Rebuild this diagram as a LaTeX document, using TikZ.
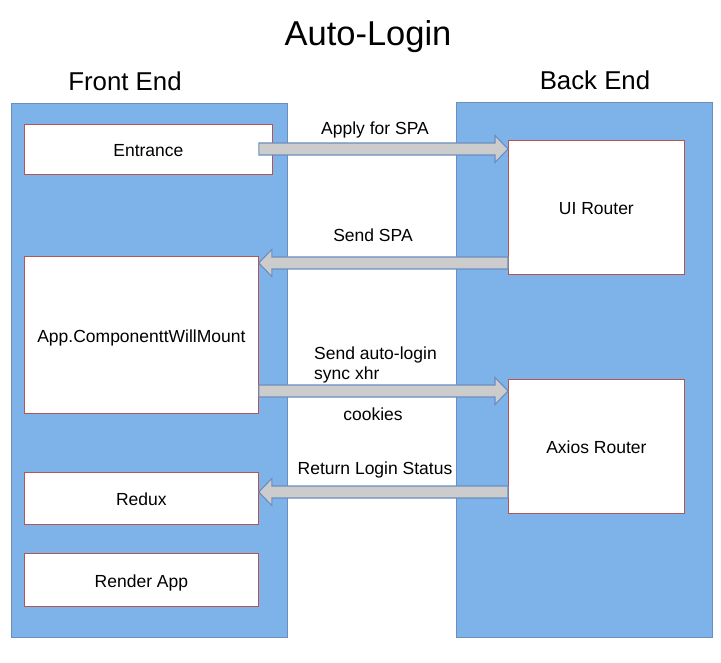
\documentclass[tikz,border=0pt]{standalone}
\usepackage{fontspec}
\setmainfont{Liberation Sans}
\usetikzlibrary{calc}
\definecolor{panelfill}{HTML}{7EB3EA}
\definecolor{paneldraw}{HTML}{6C8EBF}
\definecolor{boxdraw}{HTML}{B85450}
\definecolor{arrfill}{HTML}{CCCCCC}
\tikzset{
  panel/.style={draw=paneldraw, fill=panelfill, line width=0.8pt, anchor=north west, inner sep=0pt},
  box/.style={draw=boxdraw, fill=white, line width=0.8pt, anchor=north west, inner sep=0pt,
    font=\fontsize{17.5}{20}\selectfont, align=center, text height=15pt, text depth=0pt},
  lbl/.style={font=\fontsize{17.5}{20}\selectfont, inner sep=0pt},
  fatarr/.style={draw=paneldraw, fill=arrfill, line width=1.1pt, line join=miter},
}
\newcommand\fatarrow[2]{%
  \draw[fatarr] let \p1=(#1), \p2=(#2), \n1={ifthenelse(\x2>\x1,1,-1)} in
    (\x1,\y1+6pt) -- ({\x2-\n1*13pt},\y1+6pt) -- ({\x2-\n1*13pt},\y1+13.5pt) -- (\x2,\y1)
    -- ({\x2-\n1*13pt},\y1-13.5pt) -- ({\x2-\n1*13pt},\y1-6pt) -- (\x1,\y1-6pt) -- cycle;}
\begin{document}
\begin{tikzpicture}[x=1pt,y=-1pt]
\useasboundingbox[fill=white] (0,0) rectangle (721,663);
\node[font=\fontsize{34.5}{40}\selectfont, inner sep=0pt, anchor=base] (title) at (368,46) {Auto-Login};
\node[font=\fontsize{25.8}{30}\selectfont, inner sep=0pt, anchor=base] (fehead) at (125,91) {Front End};
\node[font=\fontsize{25.8}{30}\selectfont, inner sep=0pt, anchor=base] (behead) at (595,90) {Back End};
\node[panel, minimum width=276, minimum height=534] (fe) at (11,103) {};
\node[panel, minimum width=256, minimum height=535] (be) at (456,102) {};
\node[box, minimum width=248, minimum height=50] (entrance) at (24,124) {Entrance};
\node[box, minimum width=234, minimum height=157] (app) at (24,256) {App.ComponenttWillMount};
\node[box, minimum width=234, minimum height=52] (redux) at (24,472) {Redux};
\node[box, minimum width=234, minimum height=53] (render) at (24,553) {Render App};
\node[box, minimum width=176, minimum height=134] (ui) at (508,140) {UI Router};
\node[box, minimum width=176, minimum height=134] (axios) at (508,379) {Axios Router};
\coordinate (y1) at (0,149);
\coordinate (y2) at (0,263);
\coordinate (y3) at (0,391);
\coordinate (y4) at (0,492);
\fatarrow{app.east |- y1}{ui.west |- y1}
\fatarrow{ui.west |- y2}{app.east |- y2}
\fatarrow{app.east |- y3}{axios.west |- y3}
\fatarrow{axios.west |- y4}{redux.east |- y4}
\node[lbl] (l1) at (375,130) {Apply for SPA};
\node[lbl] (l2) at (373,235) {Send SPA};
\node[lbl, anchor=west, align=left] (l3) at (314,365) {Send auto-login\\sync xhr};
\node[lbl] (l4) at (373,414) {cookies};
\node[lbl] (l5) at (375,470) {Return Login Status};
\end{tikzpicture}
\end{document}
